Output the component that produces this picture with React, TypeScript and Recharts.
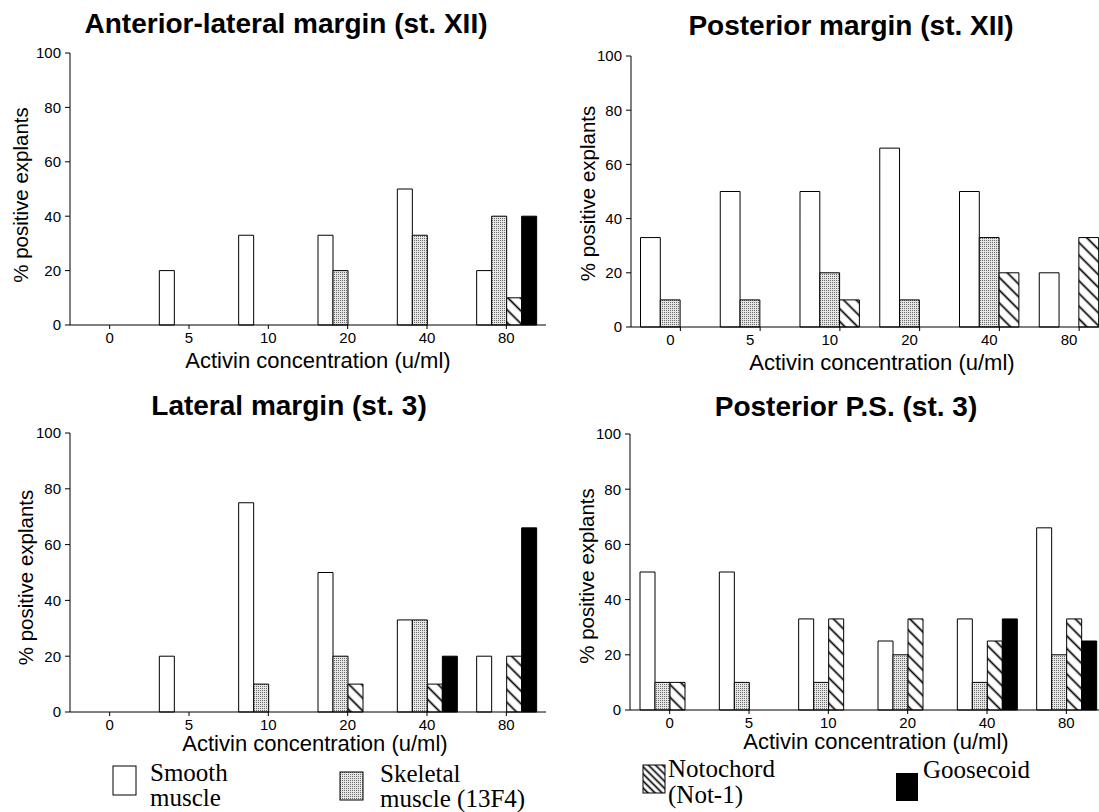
import React from "react";
import { Bar, BarChart, XAxis, YAxis } from "recharts";

const concentrations = ["0", "5", "10", "20", "40", "80"];
const yTicks = [0, 20, 40, 60, 80, 100];

// Anterior-lateral margin (st. XII)
const antLatSmooth = [0, 20, 33, 33, 50, 20];
const antLatSkeletal = [0, 0, 0, 20, 33, 40];
const antLatNotochord = [0, 0, 0, 0, 0, 10];
const antLatGoosecoid = [0, 0, 0, 0, 0, 40];

// Posterior margin (st. XII)
const postSmooth = [33, 50, 50, 66, 50, 20];
const postSkeletal = [10, 10, 20, 10, 33, 0];
const postNotochord = [0, 0, 10, 0, 20, 33];
const postGoosecoid = [0, 0, 0, 0, 0, 0];

// Lateral margin (st. 3)
const latSmooth = [0, 20, 75, 50, 33, 20];
const latSkeletal = [0, 0, 10, 20, 33, 0];
const latNotochord = [0, 0, 0, 10, 10, 20];
const latGoosecoid = [0, 0, 0, 0, 20, 66];

// Posterior P.S. (st. 3)
const psSmooth = [50, 50, 33, 25, 33, 66];
const psSkeletal = [10, 10, 10, 20, 10, 20];
const psNotochord = [10, 0, 33, 33, 25, 33];
const psGoosecoid = [0, 0, 0, 0, 33, 25];

const titles = [
  "Anterior-lateral margin (st. XII)",
  "Posterior margin (st. XII)",
  "Lateral margin (st. 3)",
  "Posterior P.S. (st. 3)",
];

function buildRows(smooth: number[], skeletal: number[], notochord: number[], goosecoid: number[]) {
  return concentrations.map((conc, i) => ({
    conc,
    smooth: smooth[i],
    skeletal: skeletal[i],
    notochord: notochord[i],
    goosecoid: goosecoid[i],
  }));
}

const SANS = "'Liberation Sans', Arial, Helvetica, sans-serif";
const SERIF = "'Liberation Serif', 'Times New Roman', serif";

function patternDefs(id: string, spacing = 9) {
  return (
    <defs>
      <pattern id={`${id}-stip`} patternUnits="userSpaceOnUse" width="2" height="2">
        <rect width="2" height="2" fill="#e6e6e6" />
        <rect width="1" height="1" fill="#6a6a6a" />
      </pattern>
      <pattern
        id={`${id}-hatch`}
        patternUnits="userSpaceOnUse"
        width={spacing}
        height={spacing}
        patternTransform="rotate(-45)"
      >
        <rect width={spacing} height={spacing} fill="#fff" />
        <line x1={spacing / 2} y1="0" x2={spacing / 2} y2={spacing} stroke="#000" strokeWidth="1.7" />
      </pattern>
    </defs>
  );
}

type PanelLayout = {
  id: string;
  left: number;
  top: number;
  width: number;
  height: number;
  plotTop: number;
  right: number;
  yAxisWidth: number;
  xAxisHeight: number;
  padLeft: number;
  barSize: number;
  tickDx: number;
  xLabelOffset: number;
  xLabelDx: number;
  yLabelOffset: number;
  yLabelDy: number;
};

const layouts: PanelLayout[] = [
  { id: "p1", left: 0, top: 0, width: 560, height: 380, plotTop: 53, right: 14, yAxisWidth: 70, xAxisHeight: 55, padLeft: 0, barSize: 15, tickDx: 0, xLabelOffset: 12, xLabelDx: 10, yLabelOffset: 21, yLabelDy: 6 },
  { id: "p2", left: 550, top: 0, width: 569, height: 380, plotTop: 56, right: 0, yAxisWidth: 81, xAxisHeight: 53, padLeft: 9.5, barSize: 19.8, tickDx: -10, xLabelOffset: 10, xLabelDx: 7, yLabelOffset: 38, yLabelDy: 2 },
  { id: "p3", left: 0, top: 380, width: 560, height: 400, plotTop: 53, right: 14, yAxisWidth: 70, xAxisHeight: 68, padLeft: 0, barSize: 15, tickDx: 0, xLabelOffset: 29, xLabelDx: 7, yLabelOffset: 26, yLabelDy: 5 },
  { id: "p4", left: 550, top: 380, width: 556, height: 400, plotTop: 54, right: 0, yAxisWidth: 80, xAxisHeight: 70, padLeft: 0, barSize: 15, tickDx: 0, xLabelOffset: 31, xLabelDx: 8, yLabelOffset: 37, yLabelDy: 4 },
];

const panelData = [
  buildRows(antLatSmooth, antLatSkeletal, antLatNotochord, antLatGoosecoid),
  buildRows(postSmooth, postSkeletal, postNotochord, postGoosecoid),
  buildRows(latSmooth, latSkeletal, latNotochord, latGoosecoid),
  buildRows(psSmooth, psSkeletal, psNotochord, psGoosecoid),
];

function Panel({ p, data }: { p: PanelLayout; data: ReturnType<typeof buildRows> }) {
  return (
    <div style={{ position: "absolute", left: p.left, top: p.top, fontFamily: SANS }}>
      <BarChart
        width={p.width}
        height={p.height}
        data={data}
        margin={{ top: p.plotTop, right: p.right, bottom: 0, left: 0 }}
        barGap={0}
        barCategoryGap={0}
        barSize={p.barSize}
      >
        {patternDefs(p.id)}
        <XAxis
          dataKey="conc"
          height={p.xAxisHeight}
          interval={0}
          padding={{ left: p.padLeft, right: 0 }}
          stroke="#000"
          tickSize={4}
          tickMargin={3}
          tick={{ fill: "#000", fontSize: 15, dx: p.tickDx }}
          label={{
            value: "Activin concentration (u/ml)",
            position: "insideBottom",
            offset: p.xLabelOffset,
            dx: p.xLabelDx,
            fill: "#000",
            fontSize: 22,
          }}
        />
        <YAxis
          width={p.yAxisWidth}
          domain={[0, 100]}
          ticks={yTicks}
          interval={0}
          stroke="#000"
          tickSize={5}
          tickMargin={4}
          tick={{ fill: "#000", fontSize: 15 }}
          label={{
            value: "% positive explants",
            angle: -90,
            position: "insideLeft",
            offset: p.yLabelOffset,
            dy: p.yLabelDy,
            fill: "#000",
            fontSize: 20.5,
            style: { textAnchor: "middle" },
          }}
        />
        <Bar dataKey="smooth" name="Smooth muscle" fill="#fff" stroke="#000" strokeWidth={1} isAnimationActive={false} />
        <Bar dataKey="skeletal" name="Skeletal muscle (13F4)" fill={`url(#${p.id}-stip)`} stroke="#000" strokeWidth={1} isAnimationActive={false} />
        <Bar dataKey="notochord" name="Notochord (Not-1)" fill={`url(#${p.id}-hatch)`} stroke="#000" strokeWidth={1} isAnimationActive={false} />
        <Bar dataKey="goosecoid" name="Goosecoid" fill="#000" stroke="#000" strokeWidth={1} isAnimationActive={false} />
      </BarChart>
    </div>
  );
}

function Overlay() {
  return (
    <svg
      width={1099}
      height={812}
      style={{ position: "absolute", left: 0, top: 0, pointerEvents: "none" }}
    >
      {patternDefs("lg", 5)}
      <g fontFamily={SANS} fontWeight="bold" fontSize={28} textAnchor="middle" fill="#000">
        <text x={286} y={33}>{titles[0]}</text>
        <text x={851} y={35}>{titles[1]}</text>
        <text x={289} y={415}>{titles[2]}</text>
        <text x={846} y={416}>{titles[3]}</text>
      </g>
      <g fontFamily={SERIF} fontSize={25} fill="#000">
        <rect x={113} y={766} width={23} height={29} fill="#fff" stroke="#000" strokeWidth={1} />
        <text x={150} y={781}>Smooth</text>
        <text x={150} y={806}>muscle</text>

        <rect x={340} y={772} width={23} height={28} fill="url(#lg-stip)" stroke="#000" strokeWidth={1} />
        <text x={380} y={782}>Skeletal</text>
        <text x={380} y={807}>muscle (13F4)</text>

        <rect x={643} y={765} width={22} height={28} fill="url(#lg-hatch)" stroke="#000" strokeWidth={1} />
        <text x={668} y={777}>Notochord</text>
        <text x={668} y={803}>(Not-1)</text>

        <rect x={896} y={773} width={22} height={28} fill="#000" />
        <text x={923} y={778}>Goosecoid</text>
      </g>
    </svg>
  );
}

export default function App() {
  return (
    <div
      style={{
        position: "absolute",
        left: 0,
        top: 0,
        width: 1099,
        height: 812,
        overflow: "hidden",
        background: "#fff",
      }}
    >
      {layouts.map((p, i) => (
        <Panel key={p.id} p={p} data={panelData[i]} />
      ))}
      <Overlay />
    </div>
  );
}
